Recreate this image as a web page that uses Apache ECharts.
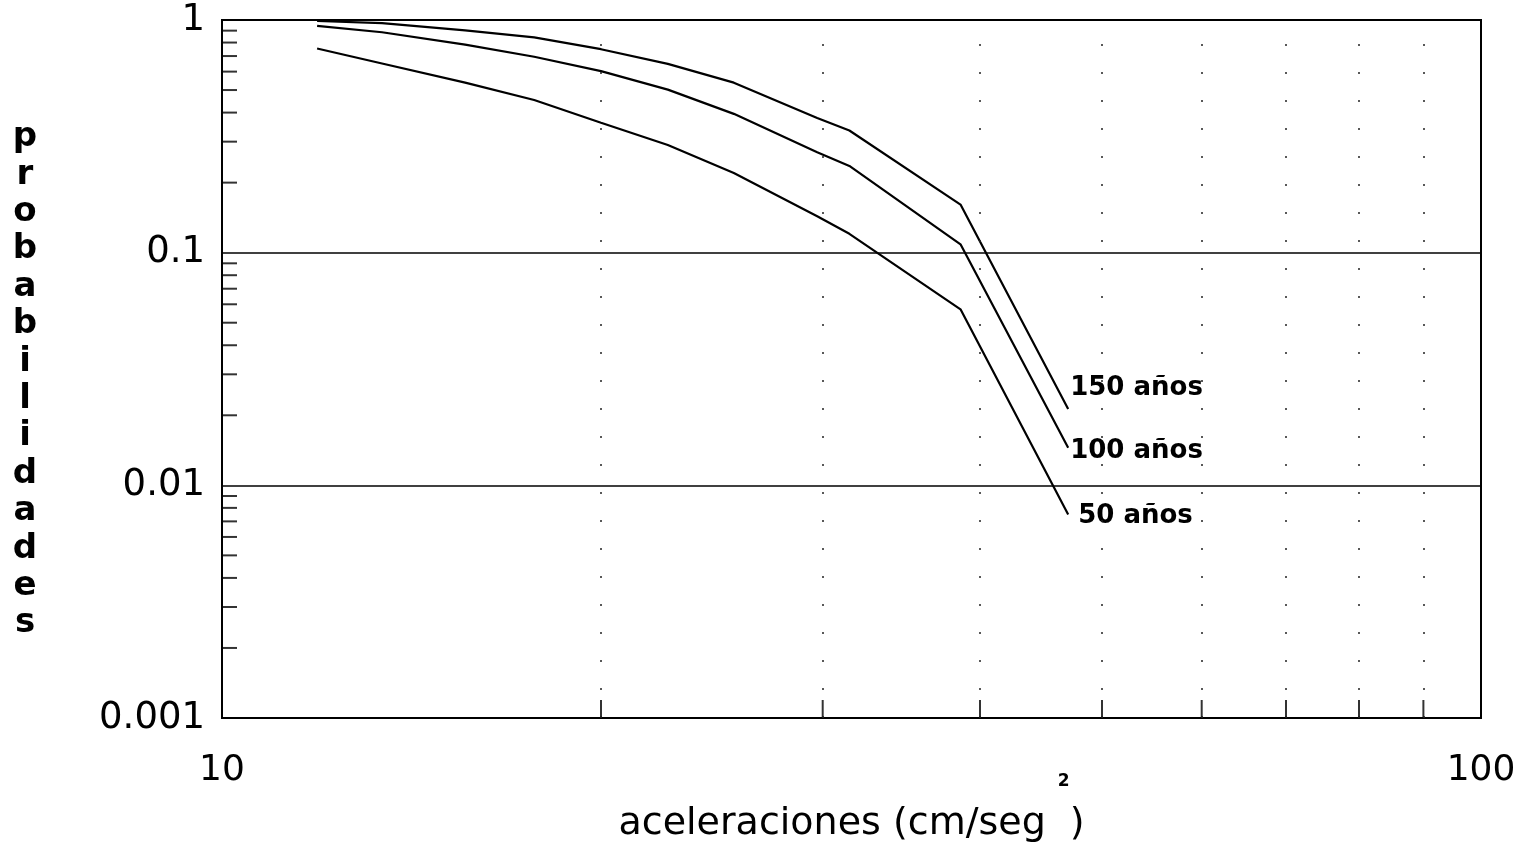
<!DOCTYPE html>
<html><head><meta charset="utf-8">
<script src="https://cdn.jsdelivr.net/npm/echarts@6/dist/echarts.min.js"></script>
<style>html,body{margin:0;padding:0;background:#fff}#c{width:1530px;height:844px}</style>
</head><body><div id="c"></div>
<script>
// ---- data ----
const accel   = [11.9, 13.4, 15.6, 17.7, 20, 22.6, 25.5, 29.7, 31.5, 38.6, 47];
const prob150 = [0.99, 0.969, 0.902, 0.842, 0.749, 0.648, 0.538, 0.379, 0.335, 0.161, 0.0213];
const prob100 = [0.943, 0.886, 0.784, 0.695, 0.603, 0.502, 0.395, 0.270, 0.236, 0.1086, 0.0145];
const prob50  = [0.754, 0.650, 0.538, 0.453, 0.362, 0.290, 0.220, 0.1435, 0.1205, 0.0571, 0.0075];
const seriesNames = ['150 años', '100 años', '50 años'];

const xTickValues = [10, 100];
const xTickLabels = ['10', '100'];
const yTickValues = [0.001, 0.01, 0.1, 1];
const yTickLabels = ['0.001', '0.01', '0.1', '1'];
const xMinorTicks = [20, 30, 40, 50, 60, 70, 80, 90];
const yMinorTicks = [0.002, 0.003, 0.004, 0.005, 0.006, 0.007, 0.008, 0.009,
                     0.02, 0.03, 0.04, 0.05, 0.06, 0.07, 0.08, 0.09,
                     0.2, 0.3, 0.4, 0.5, 0.6, 0.7, 0.8, 0.9];
const yAxisName = 'probabilidades';
const xAxisNameMain = 'aceleraciones (cm/seg ';
const xAxisNameSup = '2';
const xAxisNameEnd = ')';

// ---- chart ----
const FONT = 'DejaVu Sans';
function lookup(values, labels, v) {
  const i = values.findIndex(t => Math.abs(Math.log10(t) - Math.log10(v)) < 1e-6);
  return i >= 0 ? labels[i] : '';
}
function zip(xs, ys) { return xs.map((x, i) => [x, ys[i]]); }

const curves = [prob150, prob100, prob50];
const labelOffsets = [[2, -21], [2, 3], [10, 2]];

const lineSeries = curves.map((ys, k) => ({
  name: seriesNames[k],
  type: 'line',
  data: zip(accel, ys),
  symbol: 'none',
  silent: true,
  lineStyle: { color: '#000', width: 2.2 },
  endLabel: {
    show: true,
    formatter: seriesNames[k],
    distance: 0,
    offset: labelOffsets[k],
    color: '#000',
    fontFamily: FONT,
    fontWeight: 'bold',
    fontSize: 26
  }
}));

const option = {
  animation: false,
  backgroundColor: '#fff',
  grid: {
    left: 222, right: 49, top: 20, bottom: 126,
    outerBoundsMode: 'none', containLabel: false,
    show: true, borderColor: '#000', borderWidth: 2
  },
  xAxis: {
    type: 'log', logBase: 10, min: 10, max: 100,
    axisLine: { show: true, lineStyle: { color: '#000', width: 2 } },
    axisTick: { show: false },
    splitLine: { show: false },
    axisLabel: {
      margin: 35, color: '#000', fontFamily: FONT, fontSize: 36,
      formatter: v => lookup(xTickValues, xTickLabels, v)
    },
    name: '{t|' + xAxisNameMain + '}{s|' + xAxisNameSup + '}{t|' + xAxisNameEnd + '}',
    nameLocation: 'middle',
    nameMoveOverlap: false,
    nameGap: 55,
    nameTextStyle: {
      color: '#000', fontFamily: FONT,
      rich: {
        t: { fontSize: 38, fontFamily: FONT, color: '#000', lineHeight: 40, verticalAlign: 'bottom' },
        s: { fontSize: 17, fontFamily: FONT, fontWeight: 'bold', color: '#000', lineHeight: 70, verticalAlign: 'top' }
      }
    }
  },
  yAxis: {
    type: 'log', logBase: 10, min: 0.001, max: 1,
    axisLine: { show: true, lineStyle: { color: '#000', width: 2 } },
    axisTick: { show: false },
    splitLine: { show: true, lineStyle: { color: '#000', width: 1.5, type: 'solid' } },
    axisLabel: {
      margin: 17, color: '#000', fontFamily: FONT, fontSize: 37,
      formatter: v => lookup(yTickValues, yTickLabels, v)
    },
    name: '{sp| }\n' + yAxisName.split('').join('\n'),
    nameLocation: 'middle',
    nameMoveOverlap: false,
    nameRotate: 0,
    nameGap: 197,
    nameTextStyle: {
      color: '#000', fontFamily: FONT, fontWeight: 'bold', fontSize: 34,
      lineHeight: 37.4, align: 'center', verticalAlign: 'middle',
      rich: { sp: { fontSize: 10, lineHeight: 23 } }
    }
  },
  series: lineSeries.concat([
    {
      type: 'scatter', silent: true, clip: false,
      data: yMinorTicks.map(v => [xTickValues[0], v]),
      symbol: 'rect', symbolSize: [15, 2], symbolOffset: [7.5, 0],
      itemStyle: { color: '#000' }
    },
    {
      type: 'scatter', silent: true, clip: false,
      data: xMinorTicks.map(v => [v, yTickValues[0]]),
      symbol: 'rect', symbolSize: [2, 18], symbolOffset: [0, -9],
      itemStyle: { color: '#000' },
      markLine: {
        silent: true, symbol: 'none', label: { show: false },
        lineStyle: { color: '#222', width: 1.5, type: [2, 26] },
        data: xMinorTicks.map(v => ({ xAxis: v }))
      }
    }
  ])
};

const chart = echarts.init(document.getElementById('c'), null, { renderer: 'canvas' });
chart.setOption(option);
</script>
</body></html>
